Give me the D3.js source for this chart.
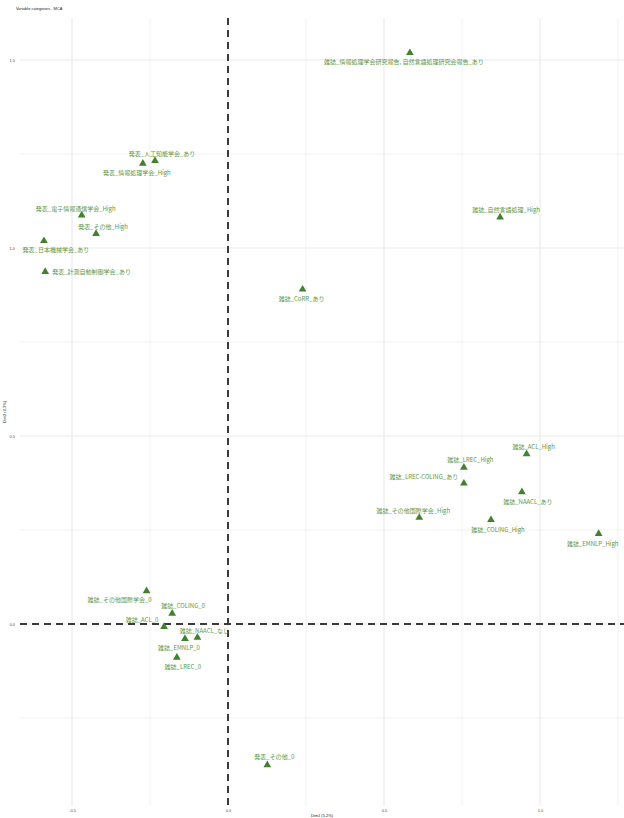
<!DOCTYPE html>
<html><head><meta charset="utf-8">
<script src="https://cdn.jsdelivr.net/npm/d3@7"></script>
<style>body{margin:0;background:#fff}svg{display:block}</style>
</head><body>
<script>
const categories = [
 "雑誌_情報処理学会研究報告, 自然言語処理研究会報告_あり","発表_人工知能学会_あり","発表_情報処理学会_High",
 "発表_電子情報通信学会_High","発表_その他_High","発表_日本機械学会_あり","発表_計測自動制御学会_あり",
 "雑誌_CoRR_あり","雑誌_自然言語処理_High","雑誌_ACL_High","雑誌_LREC_High","雑誌_LREC-COLING_あり",
 "雑誌_NAACL_あり","雑誌_その他国際学会_High","雑誌_COLING_High","雑誌_EMNLP_High","雑誌_その他国際学会_0",
 "雑誌_COLING_0","雑誌_ACL_0","雑誌_NAACL_なし","雑誌_EMNLP_0","雑誌_LREC_0","発表_その他_0"];
const dim1 = [0.583,-0.234,-0.273,-0.469,-0.423,-0.590,-0.586,0.239,0.872,0.957,0.756,0.756,0.942,0.613,0.843,1.188,-0.261,-0.179,-0.205,-0.098,-0.138,-0.164,0.126];
const dim2 = [1.519,1.232,1.225,1.087,1.038,1.019,0.937,0.890,1.082,0.452,0.416,0.374,0.351,0.283,0.277,0.240,0.088,0.028,-0.007,-0.036,-0.039,-0.089,-0.375];
const xTicks = [-0.5, 0, 0.5, 1.0];
const yTicks = [0, 0.5, 1.0, 1.5];
const xTickLabels = ["-0.5","0.0","0.5","1.0"];
const yTickLabels = ["0.0","0.5","1.0","1.5"];
const titleText = "Variable categories - MCA";
const xTitle = "Dim1 (5.2%)";
const yTitle = "Dim2 (4.3%)";
// label placement (ggrepel-like offsets, px)
const labelDx = [-6,7,-6,-6,7,12,7,-1,6,7,6.5,-40,6,-6,7,-6,-27,11,-22,7,-6,6,7];
const labelDy = [9,-7.4,9,-7,-7.7,8.6,0,9,-7.3,-8,-7.7,-7.3,9.3,-7.4,9.3,9.6,9,-7.6,-7.4,-7.4,8.6,9.4,-9];
const labelAnchor = categories.map((d,i)=> i===6 ? "start" : "middle");

const W=624,H=818;
const L=20,R=624,T=18,B=806;
const svg=d3.select("body").append("svg").attr("width",W).attr("height",H);
const x=d3.scaleLinear().domain([-0.6667,1.2692]).range([L,R]);
const y=d3.scaleLinear().domain([-0.484,1.6117]).range([B,T]);
const minorX=[-0.75,-0.25,0.25,0.75,1.25].filter(v=>x(v)>=L&&x(v)<=R+1);
const minorY=[-0.25,0.25,0.75,1.25].filter(v=>y(v)>=T&&y(v)<=B);
const g=svg.append("g");
g.selectAll(".mx").data(minorX).join("line").attr("x1",d=>x(d)).attr("x2",d=>x(d)).attr("y1",T).attr("y2",B).attr("stroke","#ececec").attr("stroke-width",0.7);
g.selectAll(".my").data(minorY).join("line").attr("y1",d=>y(d)).attr("y2",d=>y(d)).attr("x1",L).attr("x2",R).attr("stroke","#ececec").attr("stroke-width",0.7);
g.selectAll(".Mx").data(xTicks).join("line").attr("x1",d=>x(d)).attr("x2",d=>x(d)).attr("y1",T).attr("y2",B).attr("stroke","#ebebeb").attr("stroke-width",1.2);
g.selectAll(".My").data(yTicks).join("line").attr("y1",d=>y(d)).attr("y2",d=>y(d)).attr("x1",L).attr("x2",R).attr("stroke","#ebebeb").attr("stroke-width",1.2);
// axes labels
const xa=d3.axisBottom(x).tickValues(xTicks).tickFormat((d,i)=>xTickLabels[i]).tickSize(0).tickPadding(3);
svg.append("g").attr("transform",`translate(0,${B})`).call(xa).call(a=>a.select(".domain").remove())
  .selectAll("text").attr("font-size",4).attr("fill","#4d4d4d").attr("font-family","Liberation Sans, Arial");
const ya=d3.axisLeft(y).tickValues(yTicks).tickFormat((d,i)=>yTickLabels[i]).tickSize(0).tickPadding(3);
svg.append("g").attr("transform",`translate(${L-2},0)`).call(ya).call(a=>a.select(".domain").remove())
  .selectAll("text").attr("font-size",4).attr("fill","#4d4d4d").attr("font-family","Liberation Sans, Arial");
// dashed zero lines
svg.append("line").attr("x1",L).attr("x2",R).attr("y1",y(0)).attr("y2",y(0)).attr("stroke","#3a3a3a").attr("stroke-width",2).attr("stroke-dasharray","7,5");
svg.append("line").attr("x1",x(0)).attr("x2",x(0)).attr("y1",T).attr("y2",B).attr("stroke","#3a3a3a").attr("stroke-width",2).attr("stroke-dasharray","7,5");
// points
const col="#43802f";
const textCol="#5e9748";
const data=categories.map((c,i)=>({c,x:dim1[i],y:dim2[i],dx:labelDx[i],dy:labelDy[i],a:labelAnchor[i]}));
const tri=d3.symbol().type(d3.symbolTriangle).size(26);
svg.selectAll(".pt").data(data).join("path").attr("d",tri).attr("transform",d=>`translate(${x(d.x)},${y(d.y)})`).attr("fill",col);
svg.selectAll(".lb").data(data).join("text").attr("x",d=>x(d.x)+d.dx).attr("y",d=>y(d.y)+d.dy)
  .attr("text-anchor",d=>d.a).attr("dominant-baseline","central").attr("font-size",6).attr("fill",textCol)
  .attr("font-family","'Noto Sans CJK JP', sans-serif").text(d=>d.c);
// titles
svg.append("text").attr("x",16).attr("y",10).attr("font-size",4).attr("fill","#222").attr("font-family","Liberation Sans, Arial").text(titleText);
svg.append("text").attr("x",(L+R)/2).attr("y",817).attr("text-anchor","middle").attr("font-size",4).attr("fill","#222").attr("font-family","Liberation Sans, Arial").text(xTitle);
svg.append("text").attr("transform",`translate(6,${(T+B)/2}) rotate(-90)`).attr("text-anchor","middle").attr("font-size",4).attr("fill","#222").attr("font-family","Liberation Sans, Arial").text(yTitle);
</script>
</body></html>
